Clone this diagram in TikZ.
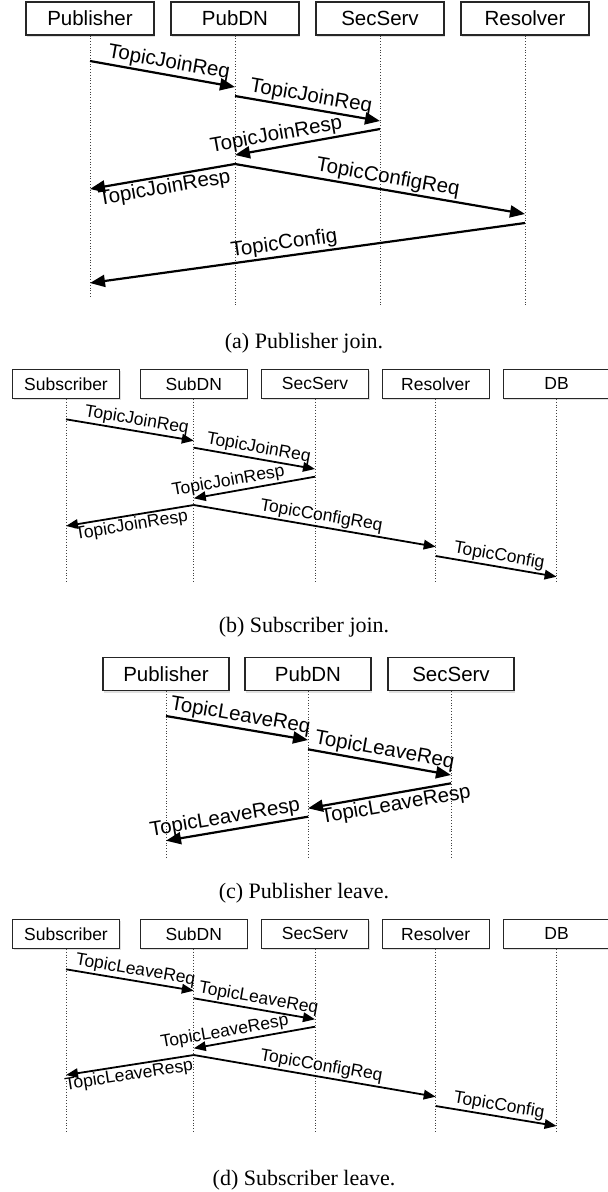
\documentclass[tikz,border=0pt]{standalone}
\usepackage{fontspec}
\setmainfont{Liberation Serif}
\setsansfont{Liberation Sans}
\usepackage{tikz}
\usetikzlibrary{arrows.meta,shadows}

\begin{document}
\begin{tikzpicture}[x=1pt,y=-1pt,
    attore/.style={draw=black!85, line width=1.2pt, fill=white, inner sep=0pt,
        minimum width=128pt, minimum height=33pt,
        font=\sffamily\fontsize{20.5}{24}\selectfont,
        drop shadow={opacity=0.25, shadow xshift=1pt, shadow yshift=-2pt}},
    attorepic/.style={attore, minimum width=107pt, minimum height=29pt,
        font=\sffamily\fontsize{17.5}{21}\selectfont},
    vita/.style={dotted, line width=0.8pt, black!75},
    msg/.style={line width=2.2pt, -{Triangle[length=15pt,width=12pt]}},
    msgpic/.style={line width=1.8pt, -{Triangle[length=12pt,width=9.5pt]}},
    lbl/.style={sloped, inner sep=1.5pt, font=\sffamily\fontsize{20.5}{24}\selectfont},
    lblpic/.style={lbl, font=\sffamily\fontsize{17.5}{21}\selectfont},
    didasc/.style={font=\fontsize{22}{26}\selectfont}]
    \useasboundingbox (0,0) rectangle (608,1192);

    % (a) Publisher join
    \node[attore] (pubA) at (90,18.5) {Publisher};
    \node[attore] (dnA) at (235,18.5) {PubDN};
    \node[attore] (secA) at (380,18.5) {SecServ};
    \node[attore] (resA) at (525,18.5) {Resolver};
    \draw[vita] (pubA.south) -- (pubA |- 0,298);
    \draw[vita] (dnA.south) -- (dnA |- 0,307);
    \draw[vita] (secA.south) -- (secA |- 0,307);
    \draw[vita] (resA.south) -- (resA |- 0,307);
    \draw[msg] (pubA |- 0,61) -- node[lbl,above,pos=.53] {TopicJoinReq} (dnA |- 0,87);
    \draw[msg] (dnA |- 0,96) -- node[lbl,above,pos=.51] {TopicJoinReq} (secA |- 0,121);
    \draw[msg] (secA |- 0,129) -- node[lbl,above,pos=.7] {TopicJoinResp} (dnA |- 0,155);
    \draw[msg] (dnA |- 0,164) -- node[lbl,below,pos=.5] {TopicJoinResp} (pubA |- 0,189);
    \draw[msg] (dnA |- 0,164) -- node[lbl,above,pos=.52] {TopicConfigReq} (resA |- 0,214);
    \draw[msg] (resA |- 0,223) -- node[lbl,above,pos=.55] {TopicConfig} (pubA |- 0,283);
    \node[didasc] (capA) at (304,343) {(a) Publisher join.};

    % (b) Subscriber join
    \node[attorepic] (subB) at (66,383.8) {Subscriber};
    \node[attorepic] (dnB) at (193.8,383.8) {SubDN};
    \node[attorepic] (secB) at (315,383.8) {SecServ};
    \node[attorepic] (resB) at (435.7,383.8) {Resolver};
    \node[attorepic] (dbB) at (556.6,383.8) {DB};
    \draw[vita] (subB.south) -- (subB |- 0,582.7);
    \draw[vita] (dnB.south) -- (dnB |- 0,582.7);
    \draw[vita] (secB.south) -- (secB |- 0,582.7);
    \draw[vita] (resB.south) -- (resB |- 0,582.7);
    \draw[vita] (dbB.south) -- (dbB |- 0,582.7);
    \draw[msgpic] (subB |- 0,419.3) -- node[lblpic,above,pos=.54] {TopicJoinReq} (dnB |- 0,440.7);
    \draw[msgpic] (dnB |- 0,447.7) -- node[lblpic,above,pos=.52] {TopicJoinReq} (secB |- 0,469);
    \draw[msgpic] (secB |- 0,476.7) -- node[lblpic,above,pos=.7] {TopicJoinResp} (dnB |- 0,498.3);
    \draw[msgpic] (dnB |- 0,505) -- node[lblpic,below,pos=.5] {TopicJoinResp} (subB |- 0,526);
    \draw[msgpic] (dnB |- 0,505) -- node[lblpic,above,pos=.52] {TopicConfigReq} (resB |- 0,546.7);
    \draw[msgpic] (resB |- 0,556) -- node[lblpic,above,pos=.51] {TopicConfig} (dbB |- 0,576.7);
    \node[didasc] (capB) at (304,626.7) {(b) Subscriber join.};

    % (c) Publisher leave
    \node[attore, minimum width=126pt] (pubC) at (166,674.3) {Publisher};
    \node[attore, minimum width=126pt] (dnC) at (308,674.3) {PubDN};
    \node[attore, minimum width=126pt] (secC) at (451,674.3) {SecServ};
    \draw[vita] (pubC.south) -- (pubC |- 0,858);
    \draw[vita] (dnC.south) -- (dnC |- 0,858);
    \draw[vita] (secC.south) -- (secC |- 0,858);
    \draw[msg] (pubC |- 0,716) -- node[lbl,above,pos=.51] {TopicLeaveReq} (dnC |- 0,740);
    \draw[msg] (dnC |- 0,749.3) -- node[lbl,above,pos=.52] {TopicLeaveReq} (secC |- 0,775);
    \draw[msg] (secC |- 0,783.3) -- node[lbl,below,pos=.4] {TopicLeaveResp} (dnC |- 0,808.3);
    \draw[msg] (dnC |- 0,816.7) -- node[lbl,above,pos=.57] {TopicLeaveResp} (pubC |- 0,840.7);
    \node[didasc] (capC) at (304,893.3) {(c) Publisher leave.};

    % (d) Subscriber leave
    \node[attorepic] (subD) at (66,933.8) {Subscriber};
    \node[attorepic] (dnD) at (193.8,933.8) {SubDN};
    \node[attorepic] (secD) at (315,933.8) {SecServ};
    \node[attorepic] (resD) at (435.7,933.8) {Resolver};
    \node[attorepic] (dbD) at (556.6,933.8) {DB};
    \draw[vita] (subD.south) -- (subD |- 0,1131.7);
    \draw[vita] (dnD.south) -- (dnD |- 0,1131.7);
    \draw[vita] (secD.south) -- (secD |- 0,1131.7);
    \draw[vita] (resD.south) -- (resD |- 0,1131.7);
    \draw[vita] (dbD.south) -- (dbD |- 0,1131.7);
    \draw[msgpic] (subD |- 0,969.3) -- node[lblpic,above,pos=.53] {TopicLeaveReq} (dnD |- 0,990.7);
    \draw[msgpic] (dnD |- 0,998.3) -- node[lblpic,above,pos=.52] {TopicLeaveReq} (secD |- 0,1019.3);
    \draw[msgpic] (secD |- 0,1026.7) -- node[lblpic,above,pos=.73] {TopicLeaveResp} (dnD |- 0,1048.3);
    \draw[msgpic] (dnD |- 0,1055) -- node[lblpic,below,pos=.52] {TopicLeaveResp} (subD |- 0,1075);
    \draw[msgpic] (dnD |- 0,1055) -- node[lblpic,above,pos=.52] {TopicConfigReq} (resD |- 0,1096.7);
    \draw[msgpic] (resD |- 0,1106) -- node[lblpic,above,pos=.51] {TopicConfig} (dbD |- 0,1126);
    \node[didasc] (capD) at (304,1180) {(d) Subscriber leave.};
\end{tikzpicture}
\end{document}
